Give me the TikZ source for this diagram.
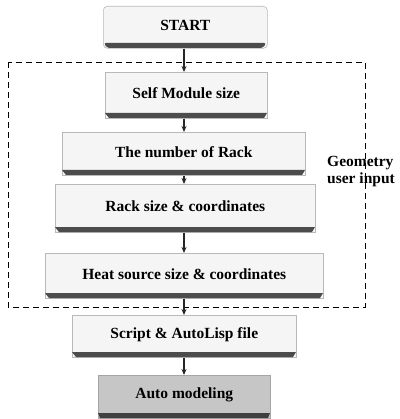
\documentclass[tikz,border=0pt]{standalone}
\usepackage{fontspec}
\setmainfont{Liberation Serif}
\usetikzlibrary{arrows.meta,calc}
\tikzset{
  box/.style={draw=gray!55, line width=0.6pt, fill=gray!8, inner sep=0pt},
  lbl/.style={font=\bfseries\fontsize{15.5}{17}\selectfont},
  arr/.style={-{Stealth[length=6pt,width=5pt]}, line width=1.1pt, black!85}
}
\newcommand{\flowbox}[6]{% name, x1, y1, x2, y2, text
  \node[box, minimum width=#4-#2, minimum height=#5-#3, anchor=north west] (#1) at (#2,#3) {};
  \fill[black!70] (#2,#5-5) -- (#4,#5-5) -- (#4-3,#5) -- (#2+4,#5) -- cycle;
  \node[lbl] at ($(#1.center)+(0,-2)$) {#6};
}
\begin{document}
\begin{tikzpicture}[x=1pt,y=-1pt]
\useasboundingbox (0,0) rectangle (399,419);
% start
\node[box, rounded corners=4pt, minimum width=164, minimum height=42, anchor=north west] (start) at (103,6) {};
\fill[black!70, rounded corners=2pt] (104,43) -- (266,43) -- (263,48) -- (107,48) -- cycle;
\node[lbl] at ($(start.center)+(0,-2)$) {START};
% dashed group
\draw[dash pattern=on 6pt off 4pt, line width=0.8pt] (8,62) rectangle (365,307);
\node[lbl, align=left, anchor=west, inner sep=0pt] (geo) at (327,172) {Geometry\\user input};
% boxes
\flowbox{s1}{105}{72}{267}{118}{Self Module size}
\flowbox{s2}{62}{132}{305}{175}{The number of Rack}
\flowbox{s3}{55}{184}{315}{232}{Rack size \& coordinates}
\flowbox{s4}{45}{253}{323}{298}{Heat source size \& coordinates}
\flowbox{s5}{72}{315}{296}{357}{Script \& AutoLisp file}
% auto modeling
\node[draw=gray!70, fill=gray!45, line width=0.6pt, minimum width=172, minimum height=43, anchor=north west, inner sep=0pt] (s6) at (98,375) {};
\fill[black!75] (98,413) -- (270,413) -- (268,418) -- (100,418) -- cycle;
\node[lbl] at ($(s6.center)+(0,-2)$) {Auto modeling};
% arrows
\draw[arr] (start.south -| 184,0) -- (s1.north -| 184,0);
\draw[arr] (s1.south -| 184,0) -- (s2.north -| 184,0);
\draw[arr] (s2.south -| 184,0) -- (s3.north -| 184,0);
\draw[arr] (s3.south -| 184,0) -- (s4.north -| 184,0);
\draw[arr] (s4.south -| 184,0) -- (s5.north -| 184,0);
\draw[arr] (s5.south -| 184,0) -- (s6.north -| 184,0);
\end{tikzpicture}
\end{document}
